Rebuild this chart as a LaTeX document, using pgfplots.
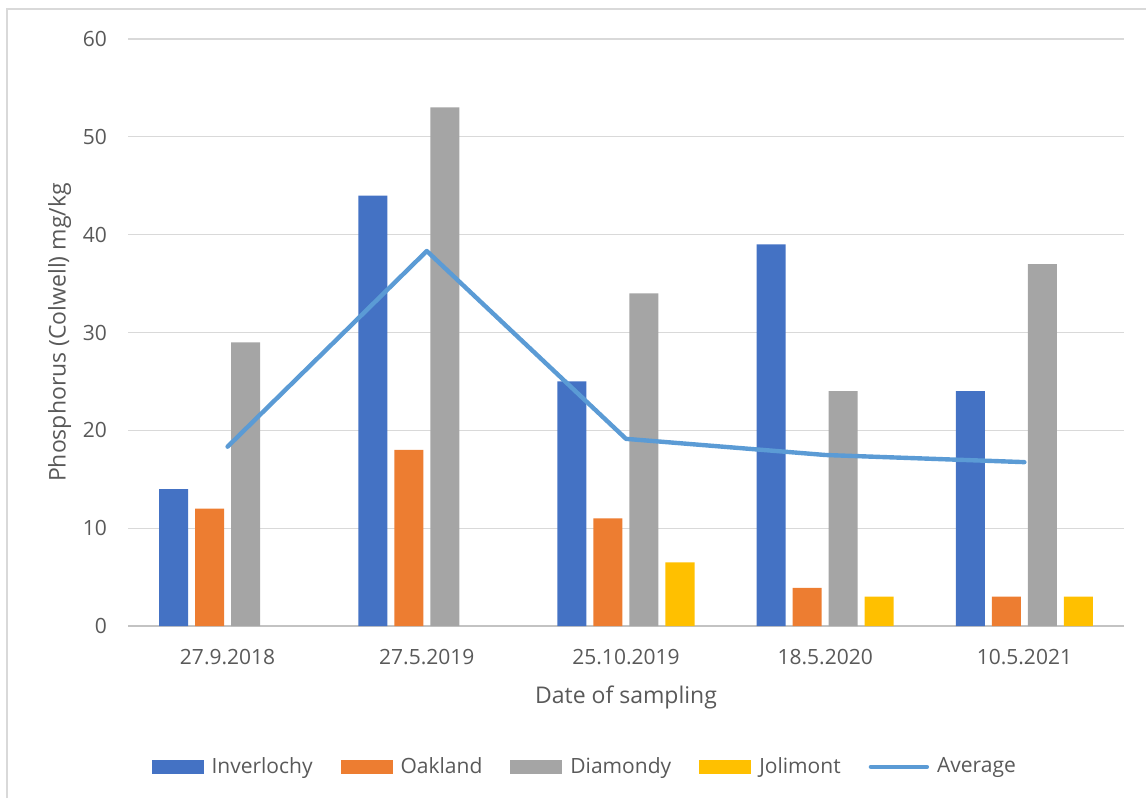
\documentclass[border=0pt]{standalone}
\usepackage{pgfplots}
\pgfplotsset{compat=1.18}
\usepackage{fontspec}
\setmainfont{Open Sans}

\definecolor{cInv}{HTML}{4472C4}
\definecolor{cOak}{HTML}{ED7D31}
\definecolor{cDia}{HTML}{A5A5A5}
\definecolor{cJol}{HTML}{FFC000}
\definecolor{cAvg}{HTML}{5B9BD5}
\definecolor{txt}{HTML}{595959}
\definecolor{gridc}{HTML}{D9D9D9}

\begin{document}
\begin{tikzpicture}
\useasboundingbox (0,0) rectangle (573pt,399pt);
% chart frame
\draw[gridc, line width=0.8pt] (3.5pt,0) -- (3.5pt,394.5pt) -- (573pt,394.5pt);
\begin{axis}[
  at={(64pt,86pt)}, anchor=south west,
  scale only axis, width=498pt, height=293.5pt,
  xmin=-0.5, xmax=4.5, ymin=0, ymax=60,
  ytick={0,10,...,60},
  xtick={0,1,2,3,4},
  xticklabels={27.9.2018,27.5.2019,25.10.2019,18.5.2020,10.5.2021},
  axis line style={draw=none},
  xmajorgrids=false, ymajorgrids=true,
  grid style={draw=gridc, line width=0.65pt},
  major tick length=0pt,
  tick label style={font=\fontsize{10.5}{12}\selectfont, text=txt},
  /pgf/number format/assume math mode=true,
  yticklabel style={xshift=-7pt},
  xticklabel style={yshift=-8pt},
  xlabel={Date of sampling},
  ylabel={Phosphorus (Colwell) mg/kg},
  label style={font=\fontsize{11.5}{13}\selectfont, text=txt},
  xlabel style={yshift=-4pt},
  ylabel style={yshift=-1pt},
  legend columns=5,
  legend style={at={(0.459,-0.240)}, anchor=center, draw=none, fill=none,
    font=\fontsize{10.5}{12}\selectfont, text=txt,
    nodes={inner xsep=1.5pt},
    /tikz/every odd column/.append style={column sep=2.5pt},
    /tikz/every even column/.append style={column sep=12.5pt}},
  legend cell align=left,
]
% x axis line
\draw[gridc!90!black, line width=0.8pt] (axis cs:-0.5,0) -- (axis cs:4.5,0);

\addplot[ybar, bar width=14.5pt, bar shift=-27pt, fill=cInv, draw=none,
  legend image code/.code={\fill[cInv] (0pt,-3.5pt) rectangle (26pt,3.5pt);}]
  coordinates {(0,14) (1,44) (2,25) (3,39) (4,24)};
\addplot[ybar, bar width=14.5pt, bar shift=-9pt, fill=cOak, draw=none,
  legend image code/.code={\fill[cOak] (0pt,-3.5pt) rectangle (26pt,3.5pt);}]
  coordinates {(0,12) (1,18) (2,11) (3,3.9) (4,3)};
\addplot[ybar, bar width=14.5pt, bar shift=9pt, fill=cDia, draw=none,
  legend image code/.code={\fill[cDia] (0pt,-3.5pt) rectangle (26pt,3.5pt);}]
  coordinates {(0,29) (1,53) (2,34) (3,24) (4,37)};
\addplot[ybar, bar width=14.5pt, bar shift=27pt, fill=cJol, draw=none,
  legend image code/.code={\fill[cJol] (0pt,-3.5pt) rectangle (26pt,3.5pt);}]
  coordinates {(2,6.5) (3,3) (4,3)};
\addplot[sharp plot, no marks, color=cAvg, line width=2.2pt, line cap=round, line join=round,
  legend image code/.code={\draw[cAvg, line width=2.2pt, line cap=round] (0pt,0pt) -- (28pt,0pt);}]
  coordinates {(0,18.33) (1,38.33) (2,19.13) (3,17.48) (4,16.75)};
\legend{Inverlochy,Oakland,Diamondy,Jolimont,Average}
\end{axis}
\end{tikzpicture}
\end{document}
